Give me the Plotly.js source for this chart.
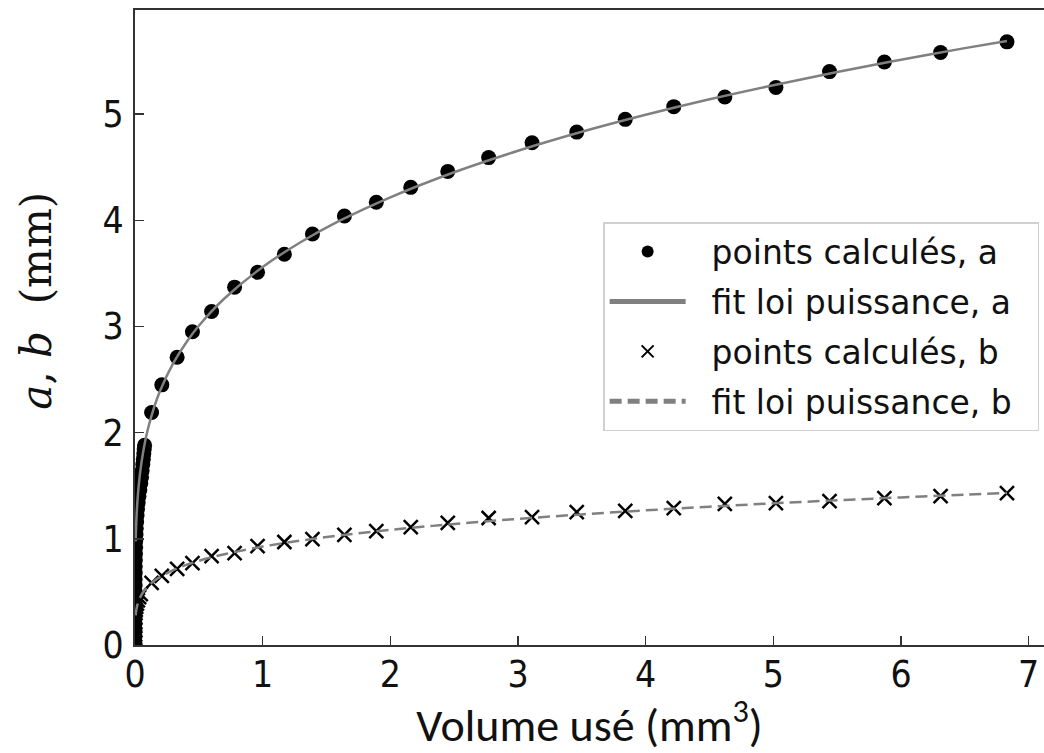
<!DOCTYPE html>
<html>
<head>
<meta charset="utf-8">
<script src="https://cdn.plot.ly/plotly-3.0.1.min.js"></script>
<style>html,body{margin:0;padding:0;background:#fff;}#chart{width:1044px;height:753px;}</style>
</head>
<body>
<div id="chart"></div>
<script>
// Dense early points (near V = 0)
const volClusterA = [0,0,0,0,0,0,0,0,0.001,0.001,0.001,0.002,0.002,0.003,0.004,0.005,0.006,0.008,0.010,0.013,0.016,0.020,0.025,0.031,0.038,0.045,0.051,0.056,0.061,0.065,0.069,0.072,0.075];
const aCluster    = [0.02,0.08,0.14,0.20,0.26,0.32,0.38,0.44,0.50,0.56,0.62,0.68,0.74,0.80,0.86,0.92,0.98,1.04,1.10,1.16,1.22,1.28,1.34,1.40,1.46,1.52,1.58,1.64,1.70,1.75,1.80,1.84,1.88];
const volClusterB = [0,0,0,0,0,0,0.001,0.003,0.005,0.009,0.015,0.022,0.032,0.045];
const bCluster    = [0.02,0.06,0.10,0.14,0.18,0.22,0.26,0.30,0.33,0.36,0.39,0.42,0.45,0.48];

// Regularly spaced computed points
const volume  = [0.13,0.21,0.33,0.45,0.60,0.78,0.96,1.17,1.39,1.64,1.89,2.16,2.45,2.77,3.11,3.46,3.84,4.22,4.62,5.02,5.44,5.87,6.31,6.83];
const aPoints = [2.19,2.45,2.71,2.95,3.14,3.37,3.51,3.68,3.87,4.04,4.17,4.31,4.46,4.59,4.73,4.83,4.95,5.07,5.16,5.25,5.40,5.49,5.58,5.68];
const bPoints = [0.584,0.650,0.716,0.772,0.838,0.866,0.932,0.970,0.998,1.036,1.073,1.111,1.149,1.196,1.205,1.252,1.262,1.290,1.328,1.337,1.356,1.384,1.403,1.431];

// Power-law fit curves
const volFit = [0.005,0.01,0.02,0.04,0.07,0.1,0.15,0.2,0.3,0.4,0.5,0.7,1.0,1.3,1.6,2.0,2.5,3.0,3.5,4.0,4.5,5.0,5.5,6.0,6.5,6.83];
const aFit   = [0.977,1.157,1.371,1.623,1.860,2.029,2.241,2.404,2.654,2.847,3.006,3.263,3.560,3.795,3.993,4.216,4.452,4.654,4.833,4.993,5.139,5.272,5.397,5.512,5.621,5.689];
const bFit   = [0.280,0.327,0.383,0.448,0.508,0.551,0.604,0.644,0.706,0.754,0.793,0.855,0.927,0.984,1.031,1.084,1.140,1.188,1.230,1.268,1.302,1.334,1.363,1.390,1.415,1.431];

const xTicks = [0,1,2,3,4,5,6,7];
const yTicks = [0,1,2,3,4,5];

const labels = ["points calculés, a", "fit loi puissance, a", "points calculés, b", "fit loi puissance, b"];
const pad = '\u00a0\u00a0';

const traces = [
  {x: volClusterA.concat(volume), y: aCluster.concat(aPoints), name: pad + labels[0], legendgroup: 'g1', type: 'scatter', mode: 'markers',
   marker: {symbol: 'circle', size: 15, color: '#000'}},
  {x: volFit, y: aFit, name: pad + labels[1] + pad, legendgroup: 'g2', type: 'scatter', mode: 'lines', line: {color: '#808080', width: 2.5, shape: 'spline'}},
  {x: volClusterB.concat(volume), y: bCluster.concat(bPoints), name: pad + labels[2], legendgroup: 'g3', type: 'scatter', mode: 'markers',
   marker: {symbol: 'x-thin-open', size: 14, color: '#000', line: {color: '#000', width: 2.5}}},
  {x: volFit, y: bFit, name: pad + labels[3], legendgroup: 'g4', type: 'scatter', mode: 'lines', line: {color: '#808080', width: 2.5, dash: '12px,6px', shape: 'spline'}}
];

const axisFont = {family: 'DejaVu Sans Condensed, DejaVu Sans, sans-serif', size: 37, color: '#111'};

const layout = {
  width: 1044, height: 753,
  margin: {l: 135, r: 0, t: 10, b: 108},
  paper_bgcolor: '#fff', plot_bgcolor: '#fff',
  showlegend: true,
  xaxis: {
    range: [0, 7.12], tickvals: xTicks, ticktext: xTicks.map(String),
    ticks: 'inside', ticklen: 9, tickwidth: 1.5, tickcolor: '#333',
    showline: true, linecolor: '#333', linewidth: 2, mirror: true,
    showgrid: false, zeroline: false, tickfont: axisFont, ticklabelstandoff: -4,
    title: {text: 'Volume usé (mm<sup>3</sup>)', font: {family: 'Carlito, Lato, sans-serif', size: 46, color: '#111'}, standoff: 10}
  },
  yaxis: {
    range: [0, 5.98], tickvals: yTicks, ticktext: yTicks.map(String),
    ticks: 'inside', ticklen: 9, tickwidth: 1.5, tickcolor: '#333',
    showline: true, linecolor: '#333', linewidth: 2, mirror: false,
    showgrid: false, zeroline: false, tickfont: axisFont, ticklabelstandoff: 2
  },
  legend: {
    x: 0.515, y: 0.666, xanchor: 'left', yanchor: 'top',
    bgcolor: '#fff', bordercolor: '#d0d0d0', borderwidth: 1.5,
    font: {family: 'DejaVu Sans, sans-serif', size: 33, color: '#111'},
    itemsizing: 'constant', itemwidth: 76, tracegroupgap: 4
  },
  annotations: [{
    xref: 'paper', yref: 'paper', x: -0.108, y: 0.542, xanchor: 'center', yanchor: 'middle',
    showarrow: false, textangle: -90,
    text: '<i>a</i>, <i>b</i>  (mm)',
    font: {family: 'DejaVu Serif, serif', size: 42, color: '#111'}
  }]
};

Plotly.newPlot('chart', traces, layout, {staticPlot: true, displayModeBar: false});
</script>
</body>
</html>
